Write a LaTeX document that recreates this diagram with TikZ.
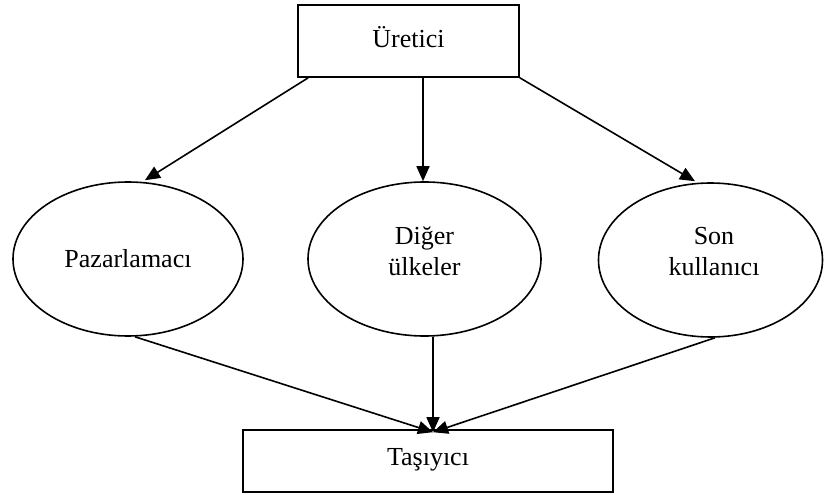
\documentclass[tikz,border=0pt]{standalone}
\usepackage{fontspec}
\setmainfont{Liberation Serif}
\usetikzlibrary{arrows.meta,shapes.geometric}
\begin{document}
\begin{tikzpicture}[x=1bp,y=-1bp,
  every node/.style={font=\fontsize{26bp}{31bp}\selectfont},
  boxnode/.style={draw,line width=1.6bp,rectangle,inner sep=0pt},
  ellnode/.style={draw,line width=1.6bp,ellipse,inner sep=0pt},
  txt/.style={align=center,inner sep=0pt},
  arr/.style={line width=1.6bp,-{Triangle[length=15bp,width=13bp]}}]
\useasboundingbox (0,0) rectangle (824,495);
\node[boxnode,minimum width=221bp,minimum height=72bp] (top) at (408.5,41) {};
\node[txt] (toptxt) at (408.5,37) {Üretici};
\node[boxnode,minimum width=370bp,minimum height=62bp] (bot) at (428,461) {};
\node[txt] (bottxt) at (428,460) {Taşıyıcı};
\node[ellnode,minimum width=230bp,minimum height=154bp] (e1) at (128,259) {};
\node[txt] (e1txt) at (128,259) {Pazarlamacı};
\node[ellnode,minimum width=233bp,minimum height=154bp] (e2) at (424.5,259) {};
\node[txt] (e2txt) at (424.5,251) {Diğer\\ülkeler};
\node[ellnode,minimum width=224bp,minimum height=154bp] (e3) at (710.5,260) {};
\node[txt] (e3txt) at (714,252) {Son\\kullanıcı};
\draw[arr] ([xshift=11bp]top.south west) -- ([xshift=17bp,yshift=1bp]e1.north);
\draw[arr] ([xshift=14.5bp]top.south) -- ([xshift=-1.5bp]e2.north);
\draw[arr] (top.south east) -- ([xshift=-15.5bp,yshift=1bp]e3.north);
\draw[arr] ([xshift=7bp]e1.south) -- ([xshift=5bp,yshift=-3bp]bot.north);
\draw[arr] ([xshift=8.5bp]e2.south) -- ([xshift=5bp,yshift=-3bp]bot.north);
\draw[arr] ([xshift=4.5bp]e3.south) -- ([xshift=5bp,yshift=-3bp]bot.north);
\end{tikzpicture}
\end{document}
